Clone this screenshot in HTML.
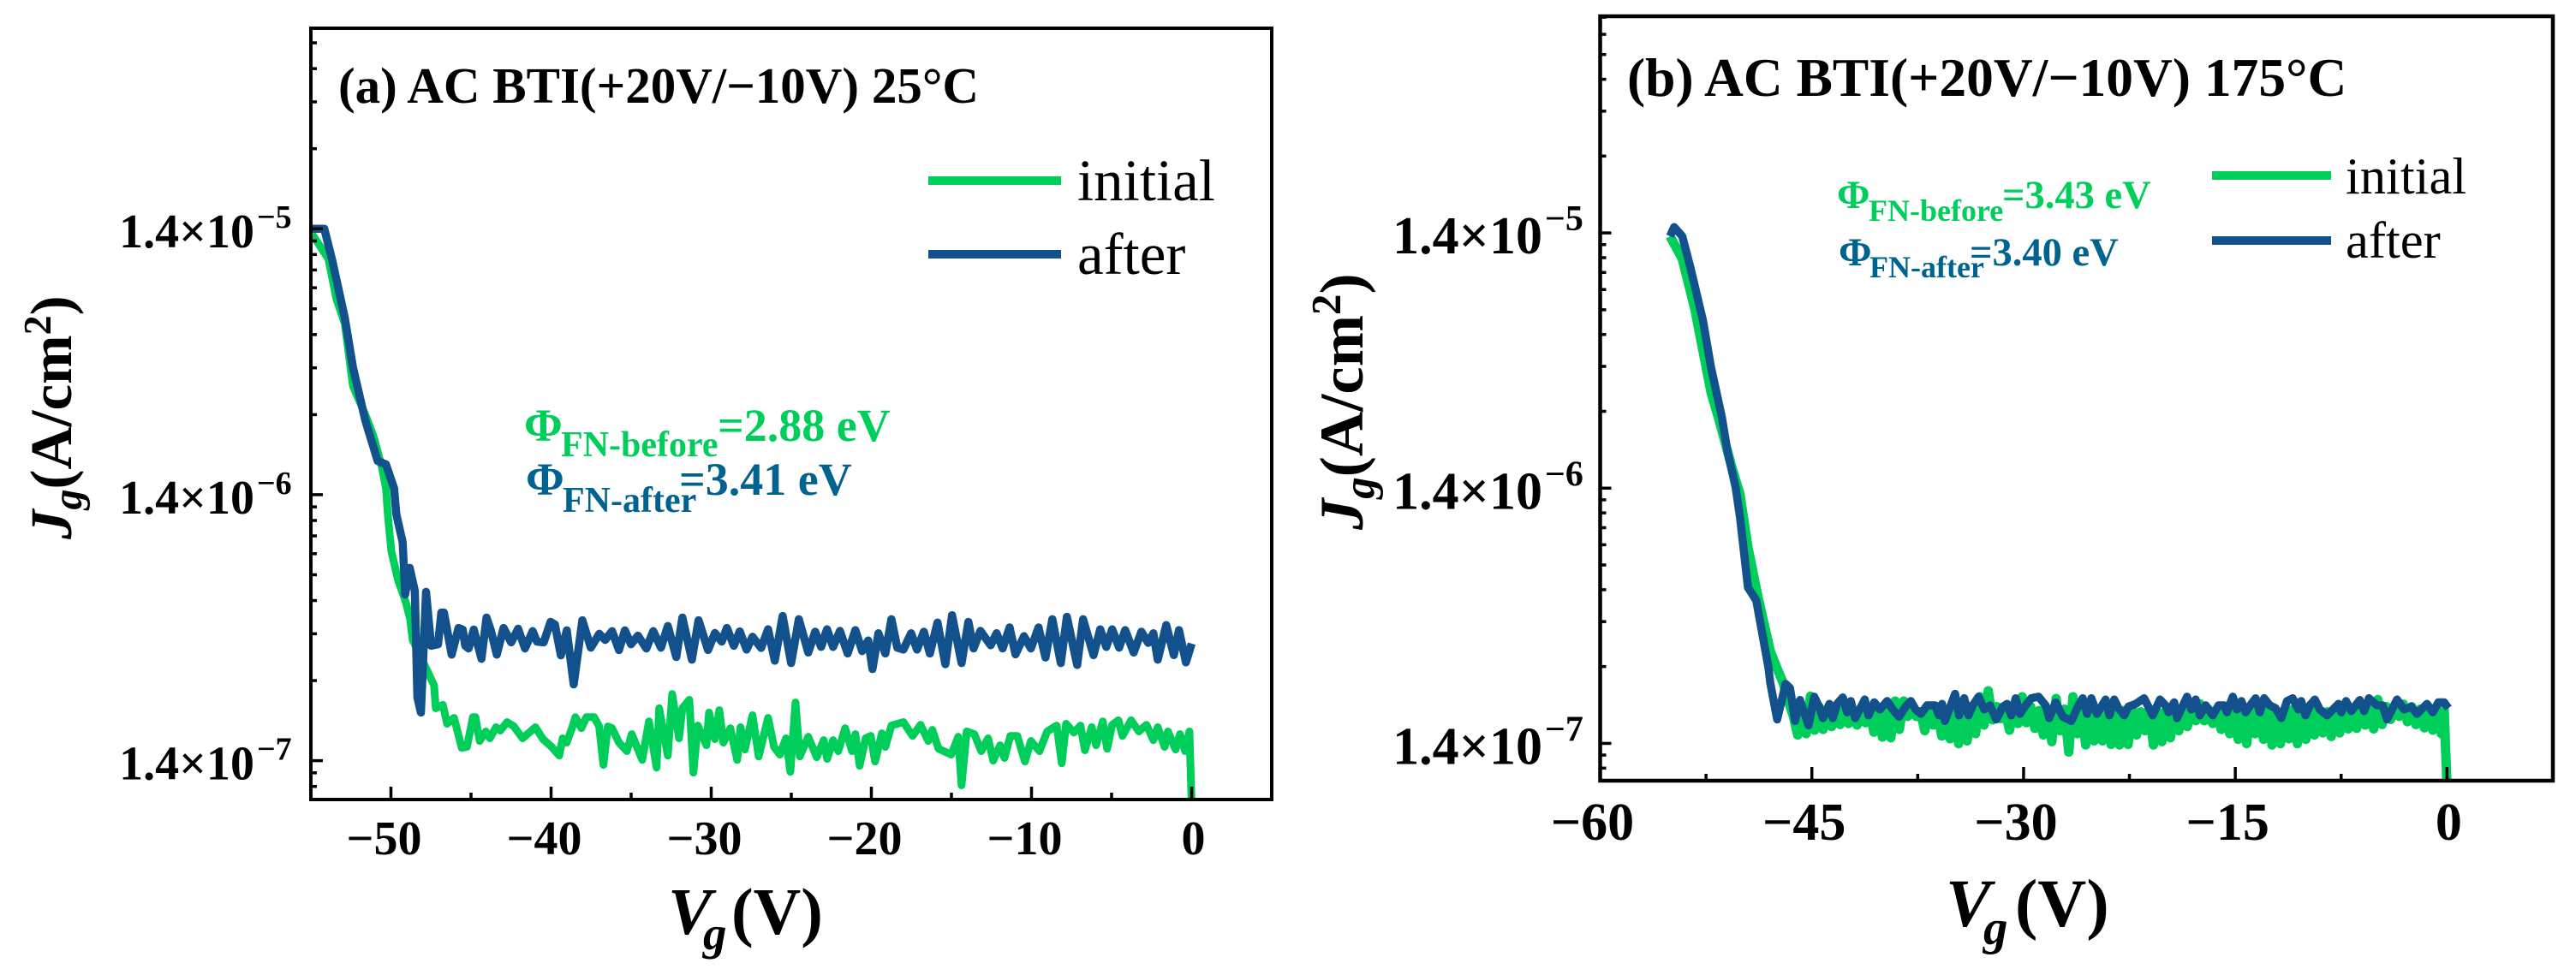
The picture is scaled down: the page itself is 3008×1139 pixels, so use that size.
<!DOCTYPE html>
<html lang="en">
<head>
<meta charset="utf-8">
<title>AC BTI gate leakage charts</title>
<style>
html,body{margin:0;padding:0;background:#fff;width:3008px;height:1139px;overflow:hidden}
svg{display:block}
text{font-family:"Liberation Serif","DejaVu Serif",serif;font-weight:bold;fill:#000}
.reg{font-weight:normal}
.it{font-style:italic}
.gt{fill:#00CE5A}
.bt{fill:#00628F}
</style>
</head>
<body>
<svg id="figure" xmlns="http://www.w3.org/2000/svg" width="3008" height="1139" viewBox="0 0 3008 1139">
  <defs>
    <clipPath id="clip-a"><rect x="363" y="33" width="1122" height="901"/></clipPath>
    <clipPath id="clip-b"><rect x="1868.5" y="19" width="1112.5" height="893"/></clipPath>
  </defs>
  <g id="panel-a"></g>
  <g id="panel-b"></g>

  <!-- Panel a static text -->
  <text x="395" y="120" font-size="59">(a) AC BTI(+20V/−10V) 25°C</text>
  <line x1="1084" x2="1239" y1="211" y2="211" stroke="#00CE5A" stroke-width="10"/>
  <text class="reg" x="1258" y="234" font-size="69">initial</text>
  <line x1="1084" x2="1239" y1="297" y2="297" stroke="#12518C" stroke-width="10"/>
  <text class="reg" x="1258" y="320" font-size="69">after</text>

  <g>
    <text class="gt" x="612" y="515" font-size="54">Φ</text>
    <text class="gt" x="655" y="533" font-size="42">FN-before</text>
    <text class="gt" x="838" y="515" font-size="54">=2.88 eV</text>
  </g>
  <g>
    <text class="bt" x="614" y="578" font-size="54">Φ</text>
    <text class="bt" x="657" y="598" font-size="42">FN-after</text>
    <text class="bt" x="793" y="578" font-size="54">=3.41 eV</text>
  </g>

  <g>
    <text class="it" x="780" y="1091" font-size="77">V</text>
    <text class="it" x="821" y="1109" font-size="55">g</text>
    <text x="854" y="1091" font-size="77">(V)</text>
  </g>
  <text transform="translate(83,630) rotate(-90)" font-size="69"><tspan class="it">J</tspan><tspan class="it" font-size="48" dy="12">g</tspan><tspan dy="-12">(A/cm</tspan><tspan font-size="46" dy="-24">2</tspan><tspan dy="24">)</tspan></text>

  <!-- Panel b static text -->
  <text x="1900" y="112" font-size="63.5">(b) AC BTI(+20V/−10V) 175°C</text>
  <line x1="2583" x2="2722" y1="205" y2="205" stroke="#00CE5A" stroke-width="10"/>
  <text class="reg" x="2739" y="226" font-size="60.5">initial</text>
  <line x1="2583" x2="2722" y1="281" y2="281" stroke="#12518C" stroke-width="10"/>
  <text class="reg" x="2739" y="301" font-size="60.5">after</text>

  <g>
    <text class="gt" x="2145" y="243" font-size="46.5">Φ</text>
    <text class="gt" x="2182" y="258" font-size="36">FN-before</text>
    <text class="gt" x="2338" y="243" font-size="46.5">=3.43 eV</text>
  </g>
  <g>
    <text class="bt" x="2147" y="310" font-size="46.5">Φ</text>
    <text class="bt" x="2183" y="324" font-size="36">FN-after</text>
    <text class="bt" x="2300" y="310" font-size="46.5">=3.40 eV</text>
  </g>

  <g>
    <text class="it" x="2272" y="1082" font-size="79">V</text>
    <text class="it" x="2316" y="1103" font-size="57">g</text>
    <text x="2353" y="1082" font-size="79">(V)</text>
  </g>
  <text transform="translate(1591,619) rotate(-90)" font-size="72.5"><tspan class="it">J</tspan><tspan class="it" font-size="51" dy="13">g</tspan><tspan dy="-13">(A/cm</tspan><tspan font-size="49" dy="-26">2</tspan><tspan dy="26">)</tspan></text>
</svg>

<script>
// ---------- Panel (a) data: Vg in volts, log10(Jg) ----------
const xMajorA = [-50, -40, -30, -20, -10, 0];
const xMinorA = [-45, -35, -25, -15, -5];
const xLabelsA = ['−50', '−40', '−30', '−20', '−10', '0'];
const yExponentsA = [-5, -6, -7];
const yMultipliers = [2, 3, 4, 5, 6, 7, 8, 9];
const yMantissa = 1.4;

const afterVgA = [
-55,-54.16,-53.65,-52.88,-52.37,-51.6,-50.83,-50.31,-49.8,-49.67,
-49.27,-49.11,-48.83,-48.51,-48.35,-48.13,-47.81,-47.49,-47.06,-46.85,
-46.69,-46.21,-45.78,-45.52,-45.36,-45.15,-44.83,-44.35,-44.03,-43.76,
-43.39,-42.97,-42.49,-42.06,-41.63,-41.15,-40.88,-40.46,-40.03,-39.76,
-39.39,-39.02,-38.59,-38.05,-37.52,-36.99,-36.62,-36.19,-35.76,-35.39,
-35.01,-34.58,-34.05,-33.62,-33.14,-32.71,-32.18,-31.8,-31.21,-30.79,
-30.2,-29.77,-29.34,-29.02,-28.59,-28.22,-27.79,-27.42,-26.88,-26.45,
-26.03,-25.54,-25.01,-24.53,-23.94,-23.51,-23.14,-22.77,-22.39,-21.96,
-21.48,-21,-20.57,-20.2,-19.93,-19.56,-19.13,-18.75,-18.38,-18,
-17.52,-17.15,-16.72,-16.35,-15.87,-15.38,-14.96,-14.37,-13.94,-13.62,
-13.19,-12.55,-12.18,-11.8,-11.37,-11,-10.47,-10.04,-9.56,-9.13,
-8.7,-8.17,-7.79,-7.15,-6.78,-6.13,-5.71,-5.33,-4.96,-4.53,
-4.15,-3.62,-3.14,-2.71,-2.39,-2.12,-1.59,-1.11,-0.79,-0.36,0];
const afterLogJA = [
-4.854,-4.854,-4.976,-5.189,-5.376,-5.575,-5.727,-5.74,-5.83,-5.926,
-6.033,-6.229,-6.129,-6.216,-6.616,-6.673,-6.219,-6.422,-6.416,-6.297,
-6.297,-6.455,-6.355,-6.361,-6.422,-6.432,-6.361,-6.471,-6.316,-6.364,
-6.455,-6.355,-6.409,-6.358,-6.432,-6.367,-6.406,-6.409,-6.332,-6.342,
-6.458,-6.364,-6.567,-6.326,-6.429,-6.377,-6.4,-6.367,-6.438,-6.364,
-6.416,-6.384,-6.432,-6.367,-6.429,-6.348,-6.464,-6.316,-6.474,-6.326,
-6.438,-6.374,-6.406,-6.355,-6.422,-6.368,-6.436,-6.388,-6.43,-6.36,
-6.478,-6.31,-6.487,-6.322,-6.447,-6.369,-6.426,-6.36,-6.426,-6.366,
-6.451,-6.363,-6.442,-6.402,-6.509,-6.375,-6.451,-6.322,-6.429,-6.436,
-6.375,-6.436,-6.369,-6.451,-6.335,-6.491,-6.307,-6.487,-6.332,-6.432,
-6.366,-6.42,-6.375,-6.432,-6.353,-6.454,-6.386,-6.432,-6.353,-6.466,
-6.322,-6.487,-6.313,-6.494,-6.322,-6.457,-6.36,-6.426,-6.36,-6.429,
-6.363,-6.447,-6.369,-6.411,-6.375,-6.474,-6.344,-6.457,-6.363,-6.484,-6.414];

const initialVgA = [
-54.93,-53.91,-53.4,-52.88,-52.37,-51.6,-51.09,-50.57,-50.31,-50.2,
-49.98,-49.56,-49.07,-48.8,-48.64,-47.73,-47.31,-47.2,-46.76,-46.49,
-46.06,-45.58,-45.25,-44.88,-44.72,-44.46,-44.08,-43.82,-43.44,-43.17,
-42.75,-42.32,-41.78,-40.98,-40.5,-39.97,-39.49,-39.28,-39.02,-38.64,
-38.48,-38.11,-37.79,-37.31,-37,-36.73,-36.46,-36.19,-35.76,-35.27,
-34.96,-34.31,-33.89,-33.41,-33.25,-32.71,-32.44,-32.01,-31.8,-31.37,
-31.11,-30.84,-30.3,-30.14,-29.77,-29.5,-29.24,-28.81,-28.38,-28.17,
-27.9,-27.42,-27.04,-26.45,-26.08,-25.71,-25.33,-25.06,-24.74,-24.47,
-23.94,-23.41,-22.98,-22.76,-22.39,-22.07,-21.64,-21.21,-21,-20.73,
-20.36,-20.04,-19.77,-19.34,-19.13,-18.75,-18,-17.42,-16.93,-16.45,
-16.19,-15.81,-15.01,-14.58,-14.37,-14.05,-13.57,-13.14,-12.71,-12.39,
-11.96,-11.69,-11.32,-10.89,-10.41,-10.04,-9.5,-9.02,-8.43,-8.11,
-7.84,-7.36,-6.94,-6.67,-6.24,-5.97,-5.55,-5.28,-4.96,-4.58,
-4.32,-3.78,-3.3,-2.82,-2.39,-2.12,-1.69,-1.48,-1,-0.73,
-0.41,-0.14,0];
const initialLogJA = [
-4.873,-4.967,-5.118,-5.211,-5.446,-5.553,-5.633,-5.749,-5.83,-5.926,
-6.065,-6.174,-6.258,-6.322,-6.4,-6.516,-6.57,-6.657,-6.644,-6.715,
-6.693,-6.806,-6.802,-6.69,-6.69,-6.78,-6.744,-6.77,-6.728,-6.741,
-6.709,-6.725,-6.77,-6.728,-6.773,-6.802,-6.835,-6.77,-6.786,-6.722,
-6.69,-6.732,-6.69,-6.69,-6.725,-6.87,-6.725,-6.732,-6.786,-6.818,
-6.754,-6.851,-6.706,-6.88,-6.657,-6.835,-6.603,-6.77,-6.657,-6.625,
-6.899,-6.722,-6.796,-6.673,-6.773,-6.664,-6.786,-6.732,-6.851,-6.728,
-6.812,-6.683,-6.838,-6.693,-6.802,-6.831,-6.77,-6.896,-6.635,-6.838,
-6.764,-6.841,-6.777,-6.847,-6.777,-6.818,-6.732,-6.818,-6.754,-6.873,
-6.77,-6.761,-6.857,-6.751,-6.802,-6.722,-6.709,-6.761,-6.719,-6.78,
-6.738,-6.809,-6.831,-6.764,-6.947,-6.744,-6.754,-6.818,-6.77,-6.854,
-6.796,-6.844,-6.761,-6.761,-6.857,-6.78,-6.818,-6.744,-6.722,-6.864,
-6.715,-6.748,-6.722,-6.815,-6.728,-6.796,-6.706,-6.809,-6.719,-6.702,
-6.761,-6.702,-6.744,-6.719,-6.777,-6.728,-6.802,-6.744,-6.812,-6.754,
-6.818,-6.744,-7.02];

// ---------- Panel (b) data ----------
const xMajorB = [-60, -45, -30, -15, 0];
const xMinorB = [-52.5, -37.5, -22.5, -7.5];
const xLabelsB = ['−60', '−45', '−30', '−15', '0'];
const yExponentsB = [-5, -6, -7];

const afterVgB = [
-55.05,-54.76,-54.18,-53.59,-52.72,-52.14,-51.38,-50.98,-50.4,-50.1,
-49.53,-48.94,-48.07,-47.95,-47.46,-46.86,-46.55,-46.19,-45.84,-45.24,
-44.83,-44.49,-44.22,-43.76,-43.52,-43.21,-42.81,-42.5,-42.24,-41.94,
-41.25,-40.99,-40.58,-40.18,-39.67,-39.27,-38.82,-38.36,-37.99,-37.65,
-37.28,-36.84,-36.27,-35.99,-35.78,-35.58,-34.85,-34.57,-34.21,-33.9,
-33.6,-33.19,-32.79,-32.38,-31.94,-31.47,-31.17,-30.87,-30.56,-30.26,
-29.85,-29.45,-28.94,-28.44,-28.19,-27.73,-27.22,-26.62,-26.11,-25.81,
-25.5,-25.2,-24.8,-24.19,-23.92,-23.58,-23.28,-22.87,-22.57,-22.06,
-21.46,-20.85,-20.34,-19.94,-19.73,-19.33,-19.13,-18.42,-18.12,-17.81,
-17.51,-17.1,-16.6,-16.19,-15.79,-15.59,-15.18,-14.88,-14.57,-14.27,
-13.87,-13.56,-13.26,-12.96,-12.55,-12.15,-11.74,-11.34,-10.93,-10.53,
-10.33,-10.02,-9.72,-9.37,-9.01,-8.5,-7.69,-7.49,-7.15,-6.78,
-6.18,-5.87,-5.53,-4.96,-4.56,-4.25,-3.54,-3.04,-2.53,-2.13,
-1.42,-1.01,-0.61,-0.2,0.1];
const afterLogJB = [
-4.867,-4.831,-4.867,-4.992,-5.196,-5.381,-5.575,-5.71,-5.851,-5.965,
-6.243,-6.294,-6.559,-6.616,-6.76,-6.621,-6.637,-6.766,-6.684,-6.783,
-6.671,-6.71,-6.755,-6.699,-6.755,-6.699,-6.674,-6.732,-6.688,-6.755,
-6.682,-6.744,-6.693,-6.721,-6.688,-6.721,-6.749,-6.71,-6.688,-6.721,
-6.738,-6.705,-6.705,-6.744,-6.699,-6.766,-6.66,-6.744,-6.677,-6.744,
-6.705,-6.671,-6.721,-6.705,-6.76,-6.71,-6.699,-6.744,-6.677,-6.738,
-6.705,-6.677,-6.671,-6.705,-6.755,-6.693,-6.749,-6.766,-6.705,-6.677,
-6.738,-6.677,-6.738,-6.682,-6.744,-6.682,-6.716,-6.744,-6.71,-6.699,
-6.677,-6.744,-6.682,-6.705,-6.732,-6.693,-6.755,-6.671,-6.721,-6.682,
-6.744,-6.705,-6.744,-6.705,-6.705,-6.732,-6.671,-6.721,-6.688,-6.732,
-6.699,-6.677,-6.732,-6.677,-6.705,-6.716,-6.755,-6.688,-6.677,-6.721,
-6.688,-6.744,-6.705,-6.682,-6.721,-6.744,-6.699,-6.732,-6.688,-6.727,
-6.684,-6.727,-6.677,-6.705,-6.705,-6.76,-6.682,-6.721,-6.71,-6.738,
-6.699,-6.732,-6.693,-6.693,-6.716];

const initialVgB = [
-55.05,-54.18,-53.3,-52.14,-51.56,-50.68,-50.1,-49.53,-48.82,-47.95,
-47.47,-47.04,-46.68,-46.31,
-46,-45.7,-45.4,-45.1,-44.8,-44.5,-44.2,-43.9,-43.6,-43.3,
-43,-42.7,-42.4,-42.1,-41.8,-41.5,-41.2,-40.9,-40.6,-40.3,
-40,-39.7,-39.4,-39.1,-38.8,-38.5,-38.2,-37.9,-37.6,-37.3,
-37,-36.7,-36.4,-36.1,-35.8,-35.5,-35.2,-34.9,-34.6,-34.3,
-34,-33.7,-33.4,-33.1,-32.8,-32.5,-32.2,-31.9,-31.6,-31.3,
-31,-30.7,-30.4,-30.1,-29.8,-29.5,-29.2,-28.9,-28.6,-28.3,
-28,-27.7,-27.4,-27.1,-26.8,-26.5,-26.2,-25.9,-25.6,-25.3,
-25,-24.7,-24.4,-24.1,-23.8,-23.5,-23.2,-22.9,-22.6,-22.3,
-22,-21.7,-21.4,-21.1,-20.8,-20.5,-20.2,-19.9,-19.6,-19.3,
-19,-18.7,-18.4,-18.1,-17.8,-17.5,-17.2,-16.9,-16.6,-16.3,
-16,-15.7,-15.4,-15.1,-14.8,-14.5,-14.2,-13.9,-13.6,-13.3,
-13,-12.7,-12.4,-12.1,-11.8,-11.5,-11.2,-10.9,-10.6,-10.3,
-10,-9.7,-9.4,-9.1,-8.8,-8.5,-8.2,-7.9,-7.6,-7.3,
-7,-6.7,-6.4,-6.1,-5.8,-5.5,-5.2,-4.9,-4.6,-4.3,
-4,-3.7,-3.4,-3.1,-2.8,-2.5,-2.2,-1.9,-1.6,-1.3,
-1,-0.7,-0.4,-0.2,-0.12,-0.05,0];
const initialLogJB = [
-4.867,-4.955,-5.149,-5.478,-5.589,-5.77,-5.877,-6.086,-6.28,-6.492,
-6.559,-6.616,-6.686,-6.747,
-6.821,-6.72,-6.816,-6.669,-6.802,-6.71,-6.799,-6.72,-6.788,-6.725,
-6.78,-6.722,-6.776,-6.73,-6.782,-6.72,-6.773,-6.726,-6.81,-6.73,
-6.829,-6.72,-6.832,-6.688,-6.799,-6.688,-6.748,-6.72,-6.748,-6.73,
-6.804,-6.722,-6.782,-6.73,-6.825,-6.725,-6.836,-6.72,-6.855,-6.73,
-6.844,-6.71,-6.816,-6.671,-6.782,-6.648,-6.762,-6.71,-6.757,-6.725,
-6.802,-6.72,-6.776,-6.671,-6.773,-6.71,-6.795,-6.725,-6.821,-6.72,
-6.847,-6.678,-6.804,-6.72,-6.888,-6.671,-6.816,-6.725,-6.86,-6.72,
-6.844,-6.73,-6.844,-6.72,-6.858,-6.73,-6.86,-6.725,-6.858,-6.72,
-6.821,-6.73,-6.804,-6.72,-6.86,-6.73,-6.847,-6.72,-6.832,-6.725,
-6.804,-6.73,-6.788,-6.72,-6.765,-6.699,-6.765,-6.72,-6.776,-6.73,
-6.799,-6.72,-6.816,-6.725,-6.838,-6.73,-6.855,-6.72,-6.816,-6.73,
-6.838,-6.72,-6.86,-6.725,-6.855,-6.73,-6.836,-6.72,-6.855,-6.73,
-6.838,-6.72,-6.821,-6.725,-6.813,-6.73,-6.827,-6.72,-6.813,-6.725,
-6.797,-6.72,-6.795,-6.73,-6.782,-6.71,-6.797,-6.682,-6.78,-6.71,
-6.76,-6.705,-6.748,-6.7,-6.769,-6.71,-6.78,-6.72,-6.793,-6.72,
-6.802,-6.715,-6.816,-6.72,-6.85,-6.95,-7.02];

// ---------- Axis helpers ----------
const SVGNS = 'http://www.w3.org/2000/svg';

function makeAxis(d0, d1, r0, r1) {
  return function (v) { return r0 + (v - d0) * (r1 - r0) / (d1 - d0); };
}

function add(parent, tag, attrs) {
  const el = document.createElementNS(SVGNS, tag);
  Object.keys(attrs).forEach(function (k) { el.setAttribute(k, attrs[k]); });
  parent.appendChild(el);
  return el;
}

function linePath(vg, logJ, xAxis, yAxis) {
  const n = Math.min(vg.length, logJ.length);
  let d = '';
  for (let i = 0; i < n; i++) {
    d += (i ? 'L' : 'M') + xAxis(vg[i]).toFixed(1) + ' ' + yAxis(logJ[i]).toFixed(1);
  }
  return d;
}

function drawPanel(p) {
  const g = document.getElementById(p.id);
  const X = makeAxis(p.xDomain[0], p.xDomain[1], p.left, p.right);
  const Y = makeAxis(p.yDomain[0], p.yDomain[1], p.bottom, p.top);

  const series = add(g, 'g', { 'clip-path': 'url(#' + p.clip + ')' });
  
  

  const initial = add(series, 'path', { d: linePath(p.initialVg, p.initialLogJ, X, Y), fill: 'none', stroke: '#00CE5A', 'stroke-width': p.strokeInitial, 'stroke-linejoin': 'round', 'stroke-linecap': 'butt' });
  
  

  const after = add(series, 'path', { d: linePath(p.afterVg, p.afterLogJ, X, Y), fill: 'none', stroke: '#12518C', 'stroke-width': p.strokeAfter, 'stroke-linejoin': 'round', 'stroke-linecap': 'butt' });
  
  

  // x ticks
  p.xMajor.forEach(function (v, i) {
    const t = add(g, 'line', { x1: X(v), x2: X(v), y1: p.bottom, y2: p.bottom - p.majorLen, stroke: '#000', 'stroke-width': 3.5 });
    
    
    const negative = v < 0;
    const lab = add(g, 'text', { x: X(v) + (negative ? p.labelShift : 2), y: p.xLabelY, 'font-size': p.tickFont, 'text-anchor': 'middle' });
    lab.textContent = p.xLabels[i];
    
    
  });
  p.xMinor.forEach(function (v) {
    const t = add(g, 'line', { x1: X(v), x2: X(v), y1: p.bottom, y2: p.bottom - p.minorLen, stroke: '#000', 'stroke-width': 3.5 });
    
    
  });

  // y ticks: major at mantissa × 10^exp, minor at k × mantissa × 10^exp
  const logM = Math.log10(yMantissa);
  p.yExponents.forEach(function (e) {
    const yy = Y(logM + e);
    const t = add(g, 'line', { x1: p.left, x2: p.left + p.yMajorLen, y1: yy, y2: yy, stroke: '#000', 'stroke-width': 3.5 });
    
    
    const lab = add(g, 'text', { x: p.yLabelEnd, y: yy + p.yLabelDy, 'font-size': p.tickFont, 'text-anchor': 'end' });
    lab.textContent = yMantissa.toFixed(1) + '×10';
    
    
    const sup = add(g, 'text', { x: p.yLabelEnd + 3, y: yy + p.yLabelDy + p.supDy, 'font-size': p.supFont });
    sup.textContent = '−' + Math.abs(e);
    
    
  });
  [-8].concat(p.yExponents).forEach(function (e) {
    yMultipliers.forEach(function (k) {
      const val = logM + e + Math.log10(k);
      if (val <= p.yDomain[0] || val >= p.yDomain[1]) { return; }
      const yy = Y(val);
      const t = add(g, 'line', { x1: p.left, x2: p.left + p.yMinorLen, y1: yy, y2: yy, stroke: '#000', 'stroke-width': 3.5 });
      
      
    });
  });

  const frame = add(g, 'rect', { x: p.left, y: p.top, width: p.right - p.left, height: p.bottom - p.top, fill: 'none', stroke: '#000', 'stroke-width': p.frame });
  
  
}

drawPanel({
  id: 'panel-a', clip: 'clip-a',
  left: 363, right: 1485, top: 33, bottom: 934,
  xDomain: [-55, 5], yDomain: [-7, -4.1],
  xMajor: xMajorA, xMinor: xMinorA, xLabels: xLabelsA, yExponents: yExponentsA,
  initialVg: initialVgA, initialLogJ: initialLogJA, afterVg: afterVgA, afterLogJ: afterLogJA,
  strokeInitial: 9, strokeAfter: 9.5, frame: 4, majorLen: 15, minorLen: 8, yMajorLen: 14, yMinorLen: 7,
  tickFont: 56, supFont: 38, supDy: -23, labelShift: -8, xLabelY: 998,
  yLabelEnd: 297, yLabelDy: 22
});
drawPanel({
  id: 'panel-b', clip: 'clip-b',
  left: 1868.5, right: 2981, top: 19, bottom: 912,
  xDomain: [-60, 7.5], yDomain: [-7, -4.005],
  xMajor: xMajorB, xMinor: xMinorB, xLabels: xLabelsB, yExponents: yExponentsB,
  initialVg: initialVgB, initialLogJ: initialLogJB, afterVg: afterVgB, afterLogJ: afterLogJB,
  strokeInitial: 11, strokeAfter: 9.5, frame: 4.5, majorLen: 16, minorLen: 8, yMajorLen: 13, yMinorLen: 7,
  tickFont: 62, supFont: 42, supDy: -27, labelShift: -9, xLabelY: 981,
  yLabelEnd: 1801, yLabelDy: 24
});
</script>
</body>
</html>
